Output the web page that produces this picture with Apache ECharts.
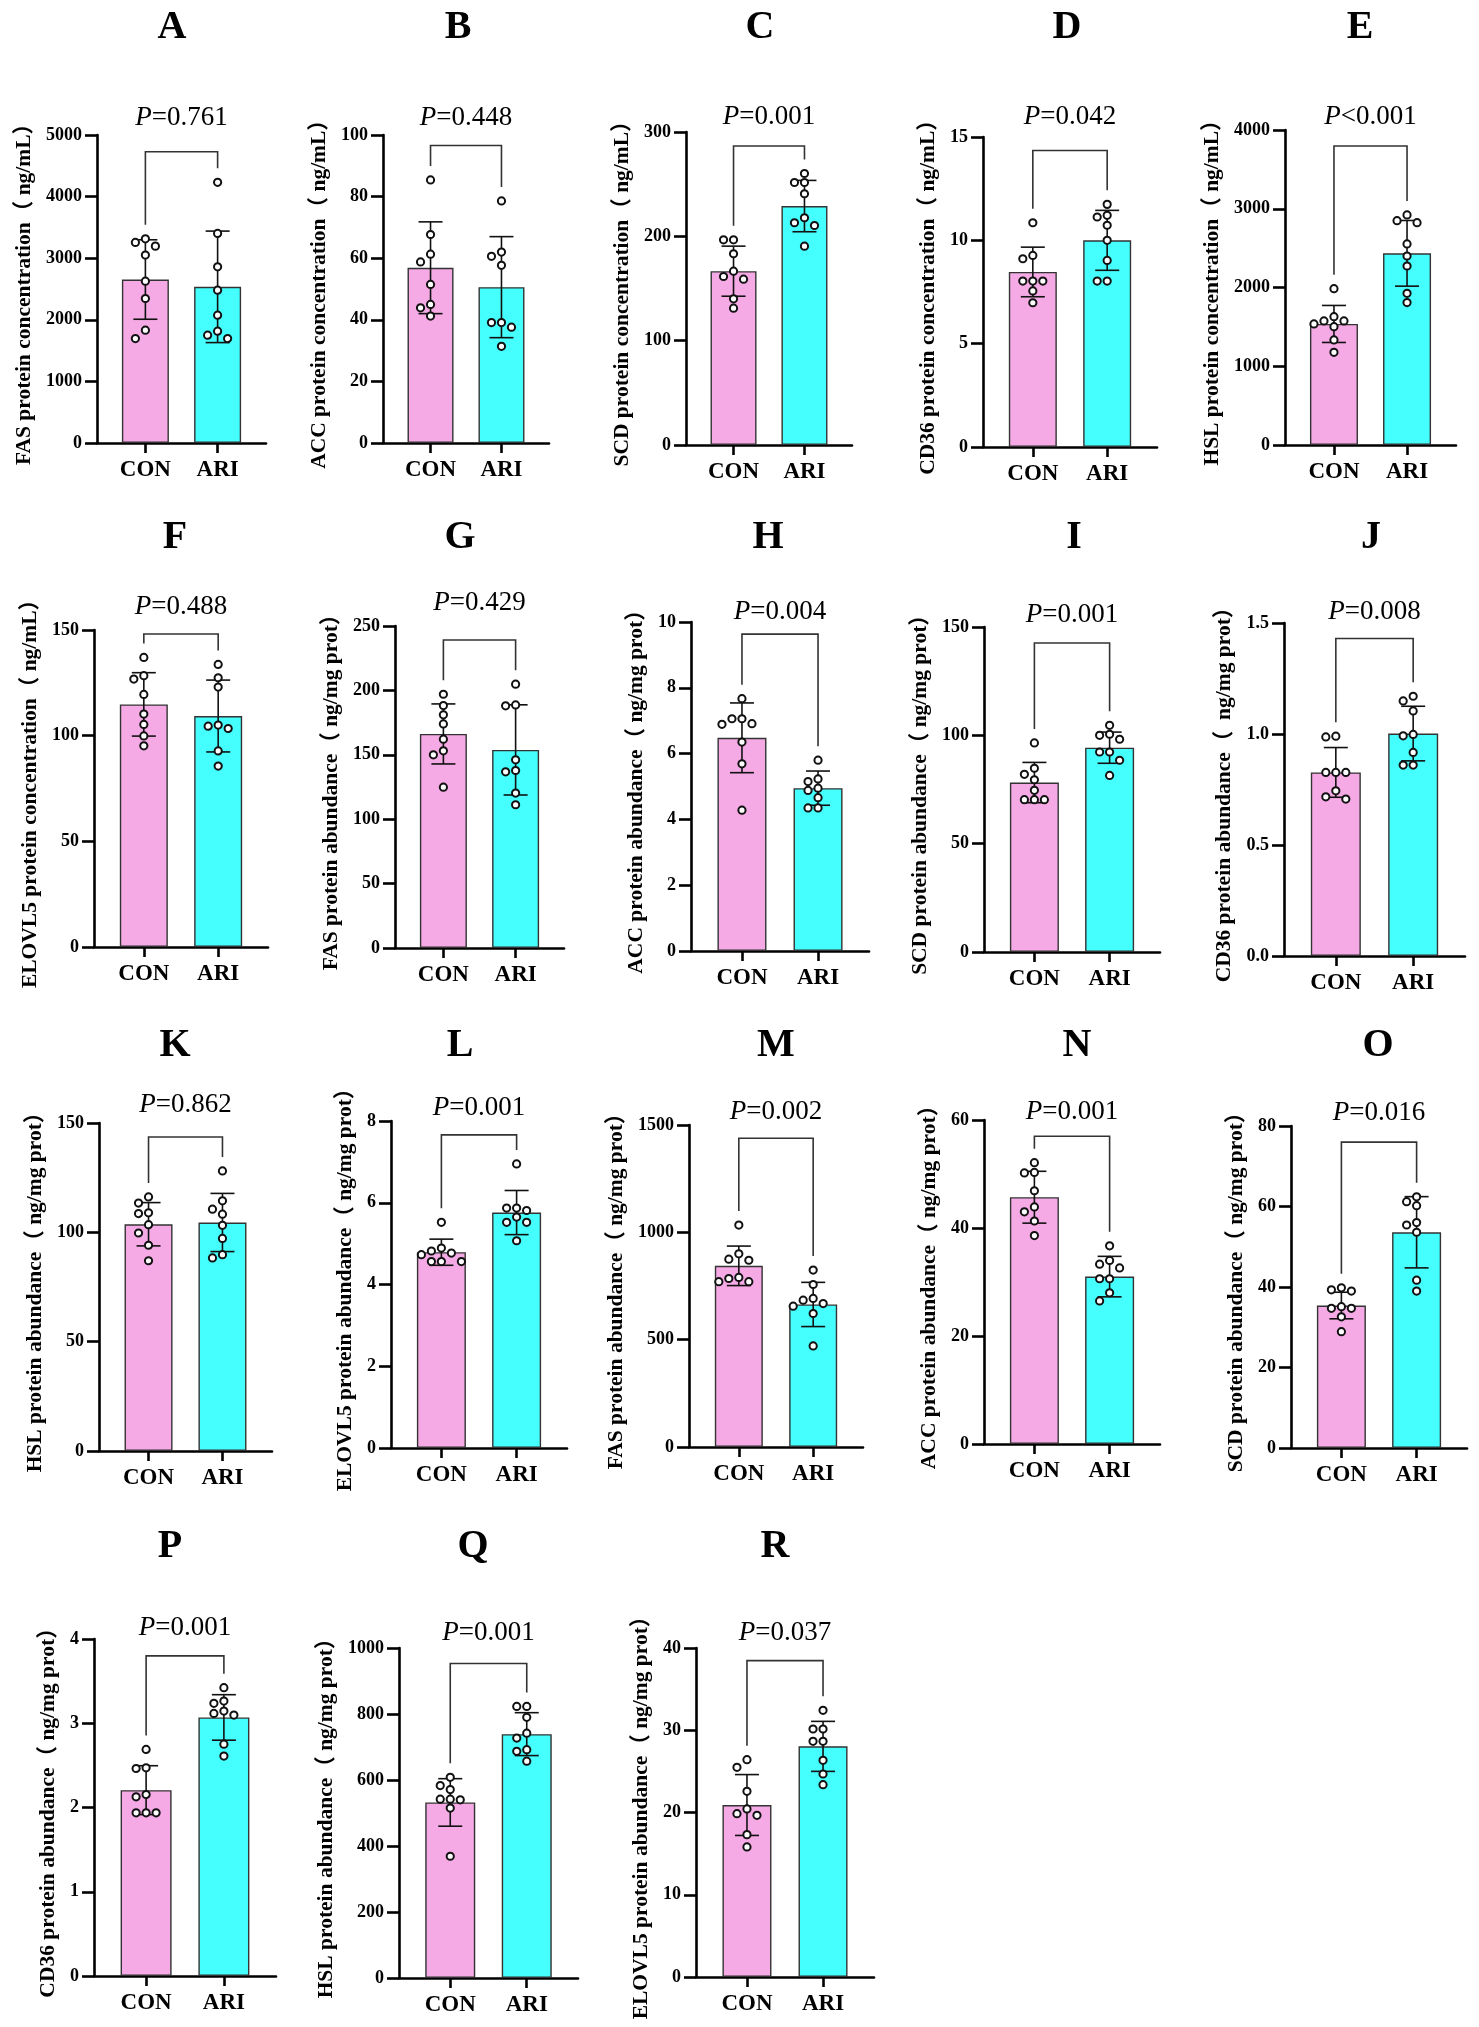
<!DOCTYPE html>
<html>
<head>
<meta charset="utf-8">
<script src="https://cdn.jsdelivr.net/npm/echarts@6/dist/echarts.min.js"></script>
<style>
html,body{margin:0;padding:0;background:#fff;}
#chart{width:1479px;height:2027px;}
</style>
</head>
<body>
<div id="chart"></div>
<script>
// ---------------- DATA ----------------
const groups = ['CON', 'ARI'];
const panelLetters = ['A','B','C','D','E','F','G','H','I','J','K','L','M','N','O','P','Q','R'];
const yTitles = [
  'FAS protein concentration（ ng/mL）',
  'ACC protein concentration（ ng/mL）',
  'SCD protein concentration（ ng/mL）',
  'CD36 protein concentration（ ng/mL）',
  'HSL protein concentration（ ng/mL）',
  'ELOVL5 protein concentration（ ng/mL）',
  'FAS protein abundance（ ng/mg prot）',
  'ACC protein abundance（ ng/mg prot）',
  'SCD protein abundance（ ng/mg prot）',
  'CD36 protein abundance（  ng/mg prot）',
  'HSL protein abundance（ ng/mg prot）',
  'ELOVL5 protein abundance（ ng/mg prot）',
  'FAS protein abundance（ ng/mg prot）',
  'ACC protein abundance（ ng/mg prot）',
  'SCD protein abundance（ ng/mg prot）',
  'CD36 protein abundance（ ng/mg prot）',
  'HSL protein abundance（ ng/mg prot）',
  'ELOVL5 protein abundance（ ng/mg prot）'
];
const pTexts = ['=0.761','=0.448','=0.001','=0.042','<0.001','=0.488','=0.429','=0.004','=0.001','=0.008',
                '=0.862','=0.001','=0.002','=0.001','=0.016','=0.001','=0.001','=0.037'];
const yMax      = [5000, 100, 300, 15, 4000, 150, 250, 10, 150, 1.5, 150, 8, 1500, 60, 80, 4, 1000, 40];
const yInterval = [1000, 20, 100, 5, 1000, 50, 50, 2, 50, 0.5, 50, 2, 500, 20, 20, 1, 200, 10];

const conMean = [2654, 56.9, 166.6, 8.47, 1537, 114.8, 166.2, 6.48, 78.2, 0.827, 103.7, 4.79, 844, 45.7, 35.4, 2.206, 532, 20.91];
const conSD   = [645, 14.9, 24, 1.2, 235, 15, 23.3, 1.06, 9.3, 0.112, 9.9, 0.32, 92, 4.8, 3.3, 0.29, 72, 3.7];
const ariMean = [2535, 50.6, 229.0, 10.0, 2434, 109.3, 153.8, 4.95, 94.3, 1.002, 104.5, 5.76, 664, 31.0, 53.6, 3.069, 739, 28.04];
const ariSD   = [905, 16.4, 24.6, 1.45, 417, 17, 35, 0.52, 7.2, 0.123, 13.3, 0.54, 103, 3.75, 8.85, 0.27, 65, 3.04];

const conDots = [
  [3315,3256,3196,3050,2627,2346,1831,1696],
  [85.4,67.7,61.3,58.8,51.5,45.0,43.9,41.2],
  [196.7,196.7,183.3,166.6,161.5,158.9,140.1,131.1],
  [10.85,9.27,9.11,8.03,8.03,8.03,7.55,6.98],
  [1985,1630,1575,1575,1537,1503,1334,1177],
  [137.0,128.4,126.8,119.5,110.2,105.3,99.9,95.2],
  [197.0,188.2,181.0,174.0,162.1,153.1,150.0,124.9],
  [7.67,7.06,7.06,6.91,6.89,6.35,5.69,4.28],
  [96.5,84.8,82.0,79.5,74.6,70.3,70.3,70.3],
  [0.99,0.987,0.827,0.827,0.827,0.744,0.717,0.707],
  [116.2,113.4,108.9,108.6,103.5,99.7,94.1,87.0],
  [5.52,4.89,4.82,4.77,4.73,4.56,4.56,4.56],
  [1034,900,875,870,790,785,770,770],
  [52.1,50.3,50.2,46.9,43.9,43.0,41.3,38.6],
  [39.8,39.3,39.0,35.1,34.7,34.7,32.6,28.9],
  [2.689,2.471,2.463,2.154,2.127,1.937,1.937,1.937],
  [608,583,571,542,542,540,515,369],
  [26.42,25.49,22.57,20.43,19.86,19.66,17.31,15.81]
];
const ariDots = [
  [4231,3402,2860,2481,2075,1815,1750,1696],
  [78.6,62.0,60.6,57.7,39.1,39.1,37.6,31.4],
  [260.2,251.6,251.6,240.8,217.8,213.0,210.4,190.6],
  [11.74,11.21,11.13,10.73,10.0,9.03,8.03,8.03],
  [2921,2849,2823,2553,2400,2273,1926,1808],
  [133.7,127.4,123.0,105.0,104.5,103.4,92.8,85.6],
  [204.8,188.7,188.0,146.1,137.8,136.8,120.3,111.2],
  [5.80,5.23,5.15,4.95,4.88,4.66,4.35,4.35],
  [104.6,100.5,100.0,98.2,92.3,92.3,88.5,81.5],
  [1.170,1.149,1.104,0.998,0.992,0.917,0.860,0.860],
  [128.1,114.4,110.6,108.3,103.2,97.2,89.8,88.3],
  [6.95,5.87,5.87,5.81,5.65,5.52,5.52,5.07],
  [824,757,692,684,668,656,622,471],
  [36.7,34.0,33.3,32.6,30.6,30.6,28.0,26.5],
  [62.4,61.2,60.2,56.0,55.4,53.6,41.7,39.0],
  [3.422,3.263,3.236,3.145,3.117,3.097,2.752,2.610],
  [823,823,790,742,727,692,687,657],
  [32.42,30.15,30.15,28.65,28.65,26.34,24.68,23.38]
];
const bracketLevel = [4729, 96.6, 286.6, 14.35, 3797, 148.1, 239.1, 9.63, 142.6, 1.43, 143.6, 7.66, 1438, 57.0, 76.0, 3.80, 953, 38.46];

// ---------------- LAYOUT (pixels) ----------------
// [axisLeft, axisTop, axisBottom, axisRight, letterX, letterY, pLabelY]
const layout = [
  [97,135,443,266, 172,28,118],
  [383,135,443,549, 458,28,118],
  [686,132,445,852, 760,28,117],
  [983,137,447,1157, 1067,28,117],
  [1285,130,445,1456, 1360,28,117],
  [94,630,947,268, 175,538,607],
  [395,626,948,564, 460,538,603],
  [691,622,951,869, 768,538,612],
  [984,627,952,1160, 1074,538,615],
  [1284,623,956,1465, 1371,538,612],
  [99,1123,1451,272, 175,1046,1105],
  [391,1121,1448,567, 460,1046,1108],
  [689,1125,1447,863, 776,1046,1112],
  [984,1120,1444,1160, 1077,1046,1112],
  [1291,1126,1448,1467, 1378,1046,1113],
  [94,1639,1976,276, 170,1547,1628],
  [399,1648,1978,578, 473,1547,1633],
  [696,1648,1977,874, 775,1547,1633]
];

const FONT = '"Times New Roman", "Liberation Serif", "Noto Sans CJK SC", serif';
const PINK = '#F6AAE5';
const CYAN = '#44FFFD';
const XMIN = -0.67, XMAX = 1.67;
const AXW = 2.6;

const mctx = document.createElement('canvas').getContext('2d');
function textW(s, size) { mctx.font = 'bold ' + size + 'px ' + FONT; return mctx.measureText(s).width; }
function fmtTick(i) { return v => (yInterval[i] < 1 ? v.toFixed(1) : String(v)); }

const grids = [], xAxes = [], yAxes = [], series = [], graphics = [];

for (let i = 0; i < 18; i++) {
  const [L, T, B, R, lx, ly, py] = layout[i];
  const W = R - L;
  const unit = W / (XMAX - XMIN);
  grids.push({ left: L, top: T, width: W, height: B - T });

  xAxes.push({
    gridIndex: i, type: 'value', min: XMIN, max: XMAX,
    axisLine: { show: true, onZero: false, lineStyle: { color: '#000', width: AXW } },
    axisTick: { show: true, customValues: [0, 1], length: 10, lineStyle: { color: '#000', width: AXW } },
    axisLabel: { customValues: [0, 1], formatter: v => groups[Math.round(v)], margin: 16,
      fontFamily: FONT, fontWeight: 'bold', fontSize: 23, color: '#000' },
    splitLine: { show: false }
  });

  let maxLabW = 0;
  for (let v = 0; v <= yMax[i] + 1e-9; v += yInterval[i]) {
    maxLabW = Math.max(maxLabW, textW(fmtTick(i)(Math.round(v * 1000) / 1000), 18));
  }
  yAxes.push({
    gridIndex: i, type: 'value', min: 0, max: yMax[i], interval: yInterval[i],
    name: yTitles[i], nameLocation: 'middle', nameRotate: 90, nameGap: maxLabW + 26,
    nameTextStyle: { fontFamily: FONT, fontWeight: 'bold', fontSize: 21.5, color: '#000' },
    axisLine: { show: true, onZero: false, lineStyle: { color: '#000', width: AXW } },
    axisTick: { show: true, length: 12, lineStyle: { color: '#000', width: AXW } },
    axisLabel: { margin: 15, formatter: fmtTick(i), fontFamily: FONT, fontWeight: 'bold', fontSize: 18, color: '#000' },
    splitLine: { show: false }
  });

  // bars
  series.push({
    type: 'bar', xAxisIndex: i, yAxisIndex: i, barWidth: Math.round(unit * 0.65),
    data: [
      { value: [0, conMean[i]], itemStyle: { color: PINK } },
      { value: [1, ariMean[i]], itemStyle: { color: CYAN } }
    ],
    itemStyle: { borderColor: '#333', borderWidth: 1.4 },
    silent: true, animation: false, z: 2
  });

  // error bars (mean ± SD)
  series.push({
    type: 'custom', xAxisIndex: i, yAxisIndex: i, silent: true, animation: false, z: 3,
    data: [[0, conMean[i], conSD[i]], [1, ariMean[i], ariSD[i]]],
    renderItem: function (params, api) {
      const x = api.value(0), m = api.value(1), s = api.value(2);
      const top = api.coord([x, m + s]), bot = api.coord([x, m - s]);
      const cap = 12, st = { stroke: '#111', lineWidth: 1.6 };
      return { type: 'group', children: [
        { type: 'line', shape: { x1: top[0], y1: top[1], x2: bot[0], y2: bot[1] }, style: st },
        { type: 'line', shape: { x1: top[0] - cap, y1: top[1], x2: top[0] + cap, y2: top[1] }, style: st },
        { type: 'line', shape: { x1: bot[0] - cap, y1: bot[1], x2: bot[0] + cap, y2: bot[1] }, style: st }
      ] };
    }
  });

  // individual points (beeswarm placement in pixel space)
  const pts = conDots[i].map(v => [0, v]).concat(ariDots[i].map(v => [1, v]));
  let offsets = null;
  series.push({
    type: 'custom', xAxisIndex: i, yAxisIndex: i, silent: true, animation: false, z: 4,
    data: pts,
    renderItem: function (params, api) {
      if (params.dataIndex === 0 || !offsets) {
        offsets = new Array(pts.length).fill(0);
        const placed = [[], []];
        const cand = [0, -1, 1, -2, 2, -3, 3];
        pts.forEach((p, k) => {
          const c = api.coord(p);
          for (const o of cand) {
            const x = c[0] + o * 10;
            let ok = true;
            for (const q of placed[p[0]]) {
              if (Math.hypot(q[0] - x, q[1] - c[1]) < 8.6) { ok = false; break; }
            }
            if (ok) { offsets[k] = o * 10; placed[p[0]].push([x, c[1]]); break; }
          }
        });
      }
      const c = api.coord([api.value(0), api.value(1)]);
      return { type: 'circle', shape: { cx: c[0] + offsets[params.dataIndex], cy: c[1], r: 3.6 },
        style: { fill: '#fff', stroke: '#111', lineWidth: 2 } };
    }
  });

  // significance bracket
  const conTop = Math.max(Math.max.apply(null, conDots[i]), conMean[i] + conSD[i]);
  const ariTop = Math.max(Math.max.apply(null, ariDots[i]), ariMean[i] + ariSD[i]);
  series.push({
    type: 'custom', xAxisIndex: i, yAxisIndex: i, silent: true, animation: false, z: 3,
    data: [[bracketLevel[i], conTop, ariTop]],
    renderItem: function (params, api) {
      const lv = api.value(0);
      const a = api.coord([0, lv]), b = api.coord([1, lv]);
      const la = api.coord([0, api.value(1)])[1] - 14;
      const lb = api.coord([1, api.value(2)])[1] - 14;
      return { type: 'polyline', shape: { points: [[a[0], la], [a[0], a[1]], [b[0], b[1]], [b[0], lb]] },
        style: { stroke: '#333', lineWidth: 1.6, fill: null } };
    }
  });

  // panel letter
  graphics.push({ type: 'text', x: lx, y: ly, silent: true,
    style: { text: panelLetters[i], align: 'center', verticalAlign: 'middle',
      fontFamily: FONT, fontWeight: 'bold', fontSize: 40, fill: '#000' } });
  // P value label centered between the two groups
  const midX = L + (0.5 - XMIN) / (XMAX - XMIN) * W;
  graphics.push({ type: 'text', x: midX, y: py, silent: true,
    style: { text: '{i|P}' + pTexts[i], align: 'center', verticalAlign: 'middle',
      fontFamily: FONT, fontSize: 27, fill: '#000',
      rich: { i: { fontFamily: FONT, fontStyle: 'italic', fontSize: 27, fill: '#000' } } } });
}

const chart = echarts.init(document.getElementById('chart'), null, { renderer: 'canvas' });
chart.setOption({
  animation: false,
  backgroundColor: '#fff',
  grid: grids, xAxis: xAxes, yAxis: yAxes, series: series, graphic: graphics
});
</script>
</body>
</html>
